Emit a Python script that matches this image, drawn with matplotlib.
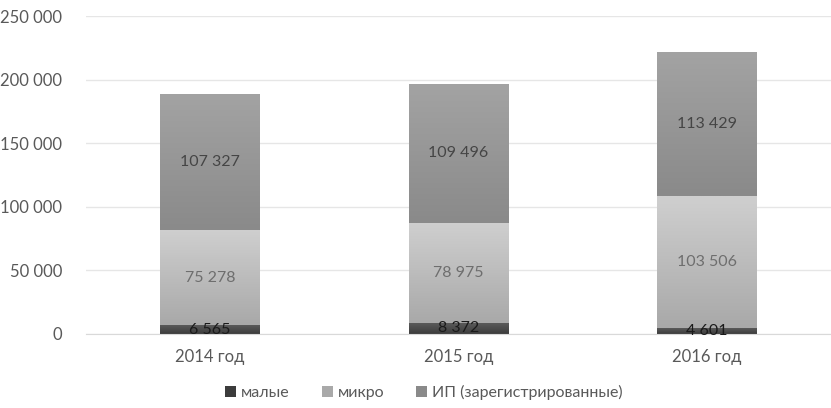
import matplotlib.pyplot as plt
import numpy as np
from matplotlib.patches import Patch

# Данные по годам
years = ['2014 год', '2015 год', '2016 год']
small = [6565, 8372, 4601]
micro = [75278, 78975, 103506]
ip = [107327, 109496, 113429]

series = [
    ('малые', small, ('#5a5a5a', '#3c3c3c'), '#1a1a1a'),
    ('микро', micro, ('#cfcfcf', '#a9a9a9'), '#6e6e6e'),
    ('ИП (зарегистрированные)', ip, ('#a3a3a3', '#8a8a8a'), '#454545'),
]


def fmt(v):
    return f'{v:,}'.replace(',', '\u00a0')


plt.rcParams['font.family'] = ['Lato', 'DejaVu Sans']

fig = plt.figure(figsize=(8.31, 4.08), dpi=100)
ax = fig.add_axes([0.103, 0.182, 0.897, 0.778])

x = np.arange(len(years))
width = 0.40
bottom = np.zeros(len(years))

for name, vals, (top_c, bot_c), text_c in series:
    vals = np.array(vals, dtype=float)
    bars = ax.bar(x, vals, width, bottom=bottom, color=bot_c, zorder=2)
    for bar, v, b in zip(bars, vals, bottom):
        # вертикальный градиент внутри столбца
        grad = np.linspace(0, 1, 64).reshape(-1, 1)
        cmap = plt.matplotlib.colors.LinearSegmentedColormap.from_list('g', [bot_c, top_c])
        im = ax.imshow(grad, cmap=cmap, aspect='auto', origin='lower',
                       extent=(bar.get_x(), bar.get_x() + width, b, b + v), zorder=2)
        im.set_clip_path(bar)
        ax.text(bar.get_x() + width / 2, b + v / 2, fmt(int(v)),
                ha='center', va='center', fontsize=11.5, color=text_c, zorder=3)
    bottom += vals

ax.set_xlim(-0.5, len(years) - 0.5)
ax.set_ylim(0, 250000)
ax.set_yticks(range(0, 250001, 50000))
ax.set_yticklabels([fmt(t) for t in range(0, 250001, 50000)])
ax.set_xticks(x)
ax.set_xticklabels(years)
ax.tick_params(axis='both', length=0, labelsize=12, labelcolor='#595959')
ax.tick_params(axis='y', pad=17)
ax.tick_params(axis='x', pad=11)
ax.grid(axis='y', color='#e6e6e6', linewidth=1, zorder=0)
for s in ['top', 'right', 'left']:
    ax.spines[s].set_visible(False)
ax.spines['bottom'].set_color('#d9d9d9')

handles = [Patch(facecolor=c[1], label=n) for n, _, c, _ in series]
fig.legend(handles=handles, loc='lower center', bbox_to_anchor=(0.51, -0.015), ncol=3,
           frameon=False, fontsize=11.5, handlelength=0.7, handleheight=0.7,
           columnspacing=2.0, handletextpad=0.3, labelcolor='#595959')

fig.savefig('out.png', dpi=100)
